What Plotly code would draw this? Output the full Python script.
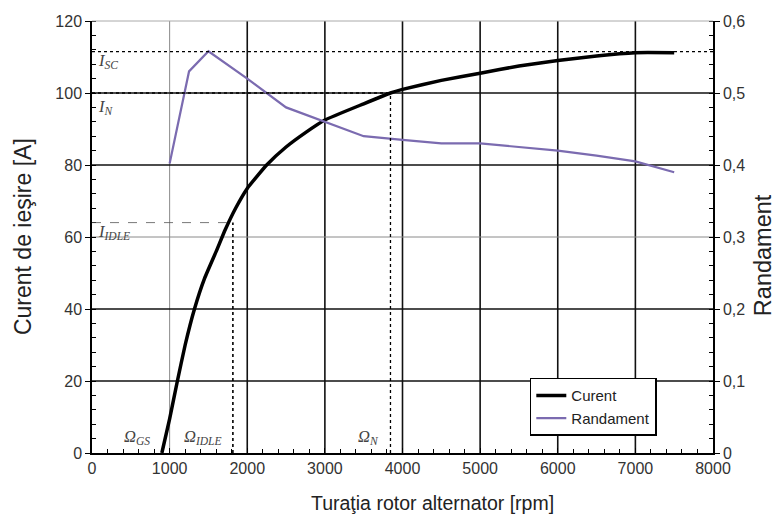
import plotly.graph_objects as go

# ---- data ----
rpm_curent = [900, 1000, 1100, 1200, 1320, 1450, 1600, 1716, 1850, 2000, 2250, 2500,
              2750, 3000, 3500, 3845, 4000, 4500, 5000, 5500, 6000, 6500, 7000, 7500]
curent = [0, 9.5, 20, 30, 40, 48.5, 56, 62, 68, 73.5, 80, 85,
          89, 92.5, 97, 100, 101, 103.5, 105.5, 107.5, 109, 110.3, 111.2, 111.2]

rpm_rand = [1000, 1250, 1500, 2000, 2500, 3000, 3500, 4000, 4500, 5000, 5500, 6000, 6500, 7000, 7500]
randament = [0.402, 0.53, 0.558, 0.52, 0.48, 0.46, 0.44, 0.435, 0.43, 0.43, 0.425, 0.42, 0.413, 0.405, 0.39]

x_ticks = [0, 1000, 2000, 3000, 4000, 5000, 6000, 7000, 8000]
y_ticks = [0, 20, 40, 60, 80, 100, 120]
y2_ticks = [0, 0.1, 0.2, 0.3, 0.4, 0.5, 0.6]
y2_labels = ["0", "0,1", "0,2", "0,3", "0,4", "0,5", "0,6"]

I_SC = 111.5
I_N = 100
I_IDLE = 64
OMEGA_N = 3845
OMEGA_IDLE = 1815

PURPLE = "#7b6bb0"
SANS = "Liberation Sans, Arial, sans-serif"
SERIF = "Liberation Serif, Times New Roman, serif"

fig = go.Figure()
fig.add_trace(go.Scatter(x=rpm_curent, y=curent, mode="lines", name="Curent",
                         line=dict(color="black", width=3.5, shape="spline", smoothing=0.4)))
fig.add_trace(go.Scatter(x=rpm_rand, y=randament, mode="lines", name="Randament",
                         line=dict(color=PURPLE, width=2.2), yaxis="y2"))

shapes = []
# grid lines
for xv in x_ticks[1:-1]:
    gray = xv == 1000
    shapes.append(dict(type="line", xref="x", yref="y", x0=xv, x1=xv, y0=0, y1=120, layer="below",
                       line=dict(color="#8a8a8a" if gray else "#111", width=1 if gray else 1.6)))
for yv in y_ticks[1:-1]:
    gray = yv == 60
    shapes.append(dict(type="line", xref="x", yref="y", x0=0, x1=8000, y0=yv, y1=yv, layer="below",
                       line=dict(color="#8a8a8a" if gray else "#111", width=1 if gray else 1.6)))
# top border
shapes.append(dict(type="line", xref="paper", yref="paper", x0=0, x1=1, y0=1, y1=1,
                   line=dict(color="#aaaaaa", width=1)))
# reference lines
shapes.append(dict(type="line", xref="x", yref="y", x0=0, x1=8000, y0=I_SC, y1=I_SC,
                   line=dict(color="black", width=1.3, dash="dot")))
shapes.append(dict(type="line", xref="x", yref="y", x0=0, x1=OMEGA_N, y0=I_N, y1=I_N,
                   line=dict(color="black", width=1.3, dash="dot")))
shapes.append(dict(type="line", xref="x", yref="y", x0=OMEGA_N, x1=OMEGA_N, y0=0, y1=I_N,
                   line=dict(color="black", width=1.3, dash="dot")))
shapes.append(dict(type="line", xref="x", yref="y", x0=0, x1=OMEGA_IDLE, y0=I_IDLE, y1=I_IDLE,
                   line=dict(color="#555", width=0.8, dash="dash")))
shapes.append(dict(type="line", xref="x", yref="y", x0=OMEGA_IDLE, x1=OMEGA_IDLE, y0=0, y1=I_IDLE,
                   line=dict(color="black", width=1.6, dash="dot")))

ann_font = dict(family=SERIF, size=16.5, color="#444")
annotations = [
    dict(x=50, y=109, text="<i>I<sub>SC</sub></i>", xanchor="left", yanchor="middle"),
    dict(x=50, y=96, text="<i>I<sub>N</sub></i>", xanchor="left", yanchor="middle"),
    dict(x=50, y=61.5, text="<i>I<sub>IDLE</sub></i>", xanchor="left", yanchor="middle"),
    dict(x=580, y=4.5, text="<i>Ω<sub>GS</sub></i>", xanchor="center", yanchor="middle"),
    dict(x=1430, y=4.5, text="<i>Ω<sub>IDLE</sub></i>", xanchor="center", yanchor="middle"),
    dict(x=3560, y=4.5, text="<i>Ω<sub>N</sub></i>", xanchor="center", yanchor="middle"),
]
for a in annotations:
    a.update(xref="x", yref="y", showarrow=False, font=ann_font)

# axis titles placed as paper annotations
annotations += [
    dict(xref="paper", yref="paper", x=-0.111, y=0.5, text="Curent de ieşire [A]", textangle=-90,
         showarrow=False, xanchor="center", yanchor="middle", font=dict(family=SANS, size=23, color="#222")),
    dict(xref="paper", yref="paper", x=1.0805, y=0.458, text="Randament", textangle=-90,
         showarrow=False, xanchor="center", yanchor="middle", font=dict(family=SANS, size=23.5, color="#222")),
    dict(xref="paper", yref="paper", x=0.549, y=-0.1157, text="Turaţia rotor alternator [rpm]",
         showarrow=False, xanchor="center", yanchor="middle", font=dict(family=SANS, size=19.5, color="#222")),
]

fig.update_layout(
    width=784, height=522,
    margin=dict(l=92, r=71, t=21, b=69, autoexpand=False),
    plot_bgcolor="white", paper_bgcolor="white",
    font=dict(family=SANS, color="#333"),
    shapes=shapes, annotations=annotations,
    showlegend=True,
    legend=dict(x=0.705, y=0.174, xanchor="left", yanchor="top",
                bgcolor="white", bordercolor="black", borderwidth=1.5,
                font=dict(family=SANS, size=15, color="#222"),
                tracegroupgap=0, itemwidth=30),
    xaxis=dict(range=[0, 8000], tickvals=x_ticks, showgrid=False, zeroline=False, automargin=False,
               showline=True, linecolor="black", linewidth=1.5,
               ticks="inside", ticklen=5, tickcolor="black",
               minor=dict(dtick=200, ticks="inside", ticklen=4, tickcolor="black"),
               tickfont=dict(size=16, color="#333")),
    yaxis=dict(range=[0, 120], tickvals=y_ticks, showgrid=False, zeroline=False, automargin=False,
               showline=True, linecolor="black", linewidth=1.5,
               ticks="outside", ticklen=5, tickcolor="black",
               minor=dict(dtick=4, ticks="inside", ticklen=4, tickcolor="black"),
               tickfont=dict(size=16, color="#333")),
    yaxis2=dict(range=[0, 0.6], overlaying="y", side="right", tickvals=y2_ticks, ticktext=y2_labels,
                showgrid=False, zeroline=False, automargin=False,
                showline=True, linecolor="black", linewidth=1.5,
                ticks="outside", ticklen=5, tickcolor="black",
                minor=dict(dtick=0.02, ticks="inside", ticklen=4, tickcolor="black"),
                tickfont=dict(size=16, color="#333")),
)

fig.write_html("out.html", config={"displayModeBar": False},
               post_script="document.body.style.margin='0';document.body.style.overflow='hidden';")
